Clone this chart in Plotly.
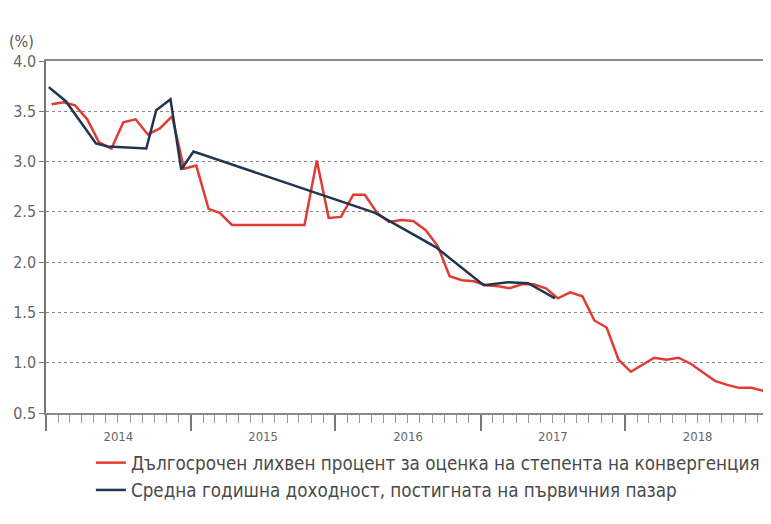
import plotly.graph_objects as go
import pandas as pd

# Long-term interest rate (monthly, Jan 2014 - Dec 2018)
red_months = pd.date_range("2014-01-01", periods=60, freq="MS") + pd.Timedelta(days=14)
red_values = [
    3.57, 3.59, 3.56, 3.42, 3.19, 3.13, 3.39, 3.42, 3.27, 3.33, 3.45, 2.93,
    2.96, 2.53, 2.49, 2.37, 2.37, 2.37, 2.37, 2.37, 2.37, 2.37, 3.01, 2.44,
    2.45, 2.67, 2.67, 2.49, 2.40, 2.42, 2.41, 2.32, 2.16, 1.86, 1.82, 1.81,
    1.77, 1.76, 1.74, 1.78, 1.78, 1.74, 1.64, 1.70, 1.66, 1.42, 1.35, 1.03,
    0.91, 0.98, 1.05, 1.03, 1.05, 0.99, 0.91, 0.82, 0.78, 0.75, 0.75, 0.72,
]

# Average annual yield on the primary market (auction dates)
blue_dates = [
    "2014-01-08", "2014-02-20", "2014-05-07", "2014-06-06", "2014-09-11",
    "2014-10-06", "2014-11-11", "2014-12-08", "2015-01-08", "2016-04-10",
    "2016-09-10", "2017-01-09", "2017-03-11", "2017-05-01", "2017-07-08",
]
blue_values = [
    3.74, 3.60, 3.18, 3.15, 3.13,
    3.51, 3.62, 2.92, 3.10, 2.49,
    2.15, 1.77, 1.80, 1.79, 1.64,
]

y_ticks = [0.5, 1.0, 1.5, 2.0, 2.5, 3.0, 3.5, 4.0]

red_name = "Дългосрочен лихвен процент за оценка на степента на конвергенция"
blue_name = "Средна годишна доходност, постигната на първичния пазар"
unit_label = "(%)"

fig = go.Figure()
fig.add_trace(go.Scatter(
    x=list(red_months), y=red_values, mode="lines", name=red_name,
    line=dict(color="#e03c31", width=2.5),
))
fig.add_trace(go.Scatter(
    x=blue_dates, y=blue_values, mode="lines", name=blue_name,
    line=dict(color="#1f3550", width=2.5),
))

font_family = "DejaVu Sans Condensed, DejaVu Sans, sans-serif"

fig.update_layout(
    width=771, height=524,
    margin=dict(l=38, r=9, t=53, b=119, autoexpand=False),
    plot_bgcolor="white", paper_bgcolor="white",
    font=dict(family=font_family, color="#5a5a5a"),
    showlegend=True,
    legend=dict(
        x=0.062, xanchor="left", y=-0.088, yanchor="top",
        font=dict(size=18.7, color="#4a4a4a"),
        tracegroupgap=0, itemwidth=30,
        bgcolor="rgba(0,0,0,0)",
    ),
    xaxis=dict(
        type="date",
        range=["2014-01-01", "2019-01-01"],
        tick0="2014-01-01", dtick="M12",
        ticklabelmode="period", tickformat="%Y",
        ticks="outside", ticklen=16, tickcolor="#777", tickwidth=1.5,
        ticklabelstandoff=-5,
        showline=True, linecolor="#888", linewidth=1.5, mirror=True,
        showgrid=False, zeroline=False, automargin=False,
        tickfont=dict(size=13, color="#666"),
        minor=dict(dtick="M1", tick0="2014-01-01", ticks="outside",
                   ticklen=8, tickcolor="#999", tickwidth=1, showgrid=False),
    ),
    yaxis=dict(
        range=[0.5, 4.0],
        tickvals=y_ticks, tickformat=".1f",
        ticks="outside", ticklen=5, tickcolor="#777",
        showline=True, linecolor="#777", linewidth=1.5,
        showgrid=True, gridcolor="#888", griddash="dot", gridwidth=1,
        zeroline=False, automargin=False,
        tickfont=dict(size=16, color="#666"),
    ),
    annotations=[dict(
        text=unit_label, xref="paper", yref="paper",
        x=-0.054, y=1.022, xanchor="left", yanchor="bottom",
        showarrow=False, font=dict(size=16, color="#555"),
    )],
)

fig.write_html("out.html")
